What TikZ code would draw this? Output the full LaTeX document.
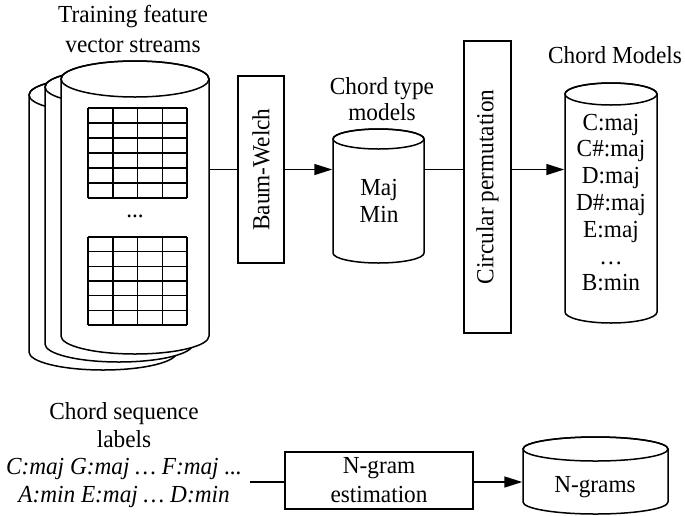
\documentclass[tikz,border=0pt]{standalone}
\usepackage{fontspec}
\setmainfont{Liberation Serif}[FakeStretch=0.95]
\usepackage{graphicx}
\usetikzlibrary{arrows.meta}
\newcommand{\drawcyl}[5]{%
  \filldraw[fill=white] (#1-#4,#2) -- (#1-#4,#3) arc[start angle=180,end angle=360,x radius=#4,y radius=#5] -- (#1+#4,#2) arc[start angle=0,end angle=180,x radius=#4,y radius=#5] -- cycle;
  \draw (#1,#2) ellipse[x radius=#4,y radius=#5];}
\begin{document}
\begin{tikzpicture}[x=1pt,y=1pt,line width=1.5pt,
  font=\fontsize{24.5}{28}\selectfont,
  arr/.style={-{Triangle[length=18pt,width=11pt]}},
  lbl/.style={align=center,inner sep=0pt},
  procbox/.style={draw,inner sep=0pt},
  hold/.style={inner sep=0pt}]
\useasboundingbox (0,0) rectangle (685,-515);
% training cylinders
\drawcyl{103}{-95}{-352}{74}{18}
\drawcyl{119}{-87}{-344}{74}{18}
\drawcyl{135}{-79}{-336}{74}{18}
\node[hold,minimum width=148pt,minimum height=257pt] (train) at (135,-207.5) {};
% grids
\foreach \i in {0,...,4} {
  \draw (88+24.75*\i,-108) -- (88+24.75*\i,-198);
  \draw (88+24.75*\i,-237) -- (88+24.75*\i,-325);}
\foreach \j in {0,...,6} {
  \draw (88,-108-15*\j) -- (187,-108-15*\j);
  \draw (88,-237-14.667*\j) -- (187,-237-14.667*\j);}
\node[lbl] (tdots) at (135,-216) {...};
\node[lbl,font=\fontsize{24.5}{29.5}\selectfont] (ttl) at (133,-29) {Training feature\\vector streams};
% Baum-Welch
\node[procbox,minimum width=46pt,minimum height=187pt] (bw) at (261,-169.5) {\rotatebox{90}{Baum-Welch}};
% chord type models
\drawcyl{378.5}{-139}{-253}{45.5}{10}
\node[hold,minimum width=91pt,minimum height=114pt] (ctm) at (378.5,-196) {};
\node[lbl,font=\fontsize{24.5}{26.5}\selectfont] (ctmt) at (382,-99) {Chord type\\models};
\node[lbl,font=\fontsize{24.5}{27}\selectfont] (ctmx) at (379,-201) {Maj\\Min};
% circular permutation
\node[procbox,minimum width=47pt,minimum height=292pt] (cp) at (487.5,-187) {\rotatebox{90}{Circular permutation}};
% chord models
\drawcyl{611}{-94}{-312}{46}{11}
\node[hold,minimum width=92pt,minimum height=218pt] (cm) at (611,-203) {};
\node[lbl] (cmt) at (615,-55) {Chord Models};
\node[lbl,font=\fontsize{24.5}{26.8}\selectfont] (cmx) at (611,-202.5) {C:maj\\C\#:maj\\D:maj\\D\#:maj\\E:maj\\…\\B:min};
% bottom row
\node[lbl,font=\fontsize{24.5}{27.7}\selectfont] (csl) at (124,-455) {Chord sequence\\labels\\\textit{C:maj G:maj … F:maj ...}\\\textit{A:min E:maj … D:min}};
\coordinate (lblend) at (250,-482);
\node[procbox,align=center,font=\fontsize{24.5}{29}\selectfont,minimum width=188pt,minimum height=57pt] (nge) at (379,-480.5) {N-gram\\estimation};
\drawcyl{595.5}{-449}{-502}{72.5}{12}
\node[hold,minimum width=145pt,minimum height=53pt] (ng) at (595.5,-475.5) {};
\node[lbl] (ngt) at (595,-487) {N-grams};
% connectors
\draw (train.east |- bw.west) -- (bw.west);
\draw[arr] (bw.east) -- (bw.east -| ctm.west);
\draw (bw.east -| ctm.east) -- (bw.east -| cp.west);
\draw[arr] (bw.east -| cp.east) -- (bw.east -| cm.west);
\draw (lblend) -- (lblend -| nge.west);
\draw[arr] (lblend -| nge.east) -- (lblend -| ng.west);
\end{tikzpicture}
\end{document}
